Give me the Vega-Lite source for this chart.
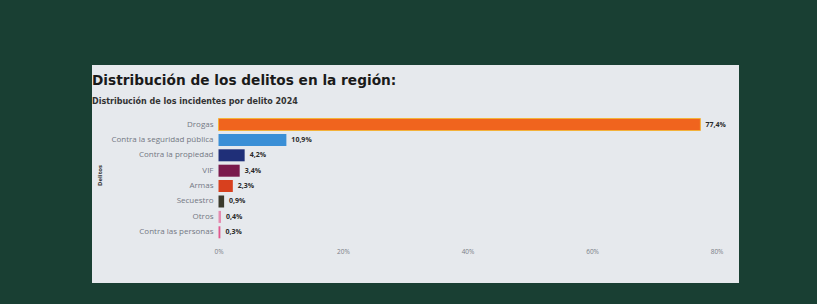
{
  "$schema": "https://vega.github.io/schema/vega-lite/v6.json",
  "width": 647,
  "height": 218,
  "autosize": {"type": "none"},
  "padding": {"left": 92, "top": 65, "right": 78, "bottom": 21},
  "background": "#193f33",
  "config": {
    "locale": {"number": {"decimal": ",", "thousands": ".", "grouping": [3], "currency": ["", " €"]}},
    "view": {"fill": "#e6e9ed", "stroke": null},
    "font": "Open Sans"
  },
  "title": {
    "text": "Distribución de los delitos en la región:",
    "subtitle": "Distribución de los incidentes por delito 2024",
    "anchor": "start",
    "frame": "group",
    "offset": -41,
    "font": "DejaVu Sans",
    "fontSize": 13.7,
    "fontWeight": "bold",
    "color": "#1a1a1a",
    "subtitleFont": "DejaVu Sans",
    "subtitleFontSize": 8,
    "subtitleFontWeight": "bold",
    "subtitleColor": "#333333",
    "subtitlePadding": 10
  },
  "data": {
    "values": [
      {"delito": "Drogas", "pct": 0.774},
      {"delito": "Contra la seguridad pública", "pct": 0.109},
      {"delito": "Contra la propiedad", "pct": 0.042},
      {"delito": "VIF", "pct": 0.034},
      {"delito": "Armas", "pct": 0.023},
      {"delito": "Secuestro", "pct": 0.009},
      {"delito": "Otros", "pct": 0.004},
      {"delito": "Contra las personas", "pct": 0.003}
    ]
  },
  "encoding": {
    "y": {
      "field": "delito",
      "type": "nominal",
      "sort": null,
      "scale": {"paddingInner": 0.22, "paddingOuter": 0, "range": [53.5, 173.3]},
      "axis": {
        "title": "Delitos",
        "offset": -124,
        "domain": false,
        "ticks": false,
        "labelPadding": 3,
        "labelFontSize": 8,
        "labelColor": "#737883",
        "labelFont": "Open Sans",
        "titleFontSize": 6,
        "titleFontWeight": "bold",
        "titleColor": "#333333",
        "titleX": -117,
        "titleY": 110,
        "titleAngle": -90,
        "titleAlign": "center",
        "titleBaseline": "middle"
      }
    },
    "x": {
      "field": "pct",
      "type": "quantitative",
      "scale": {"domain": [-0.2032, 0.836], "nice": false, "zero": false},
      "axis": {
        "title": null,
        "values": [0, 0.2, 0.4, 0.6, 0.8],
        "format": ".0%",
        "offset": -36,
        "domain": false,
        "ticks": false,
        "grid": false,
        "labelPadding": 1,
        "labelFontSize": 6.5,
        "labelColor": "#7a7e86"
      }
    }
  },
  "layer": [
    {
      "mark": {"type": "bar", "strokeWidth": 1},
      "encoding": {
        "x2": {"datum": 0},
        "color": {
          "field": "delito",
          "type": "nominal",
          "legend": null,
          "scale": {
            "domain": ["Drogas", "Contra la seguridad pública", "Contra la propiedad", "VIF", "Armas", "Secuestro", "Otros", "Contra las personas"],
            "range": ["#f0641e", "#3a8fd6", "#1f2f78", "#7a1a4c", "#d8401e", "#3b3a2c", "#e58ab0", "#e0588e"]
          }
        },
        "stroke": {
          "condition": {"test": "datum.delito === 'Drogas'", "value": "#f3b23a"},
          "value": null
        }
      }
    },
    {
      "mark": {"type": "text", "align": "left", "dx": 5, "fontSize": 7, "fontWeight": "bold", "color": "#2a2a2a"},
      "encoding": {
        "text": {"field": "pct", "type": "quantitative", "format": ".1%"}
      }
    }
  ]
}
